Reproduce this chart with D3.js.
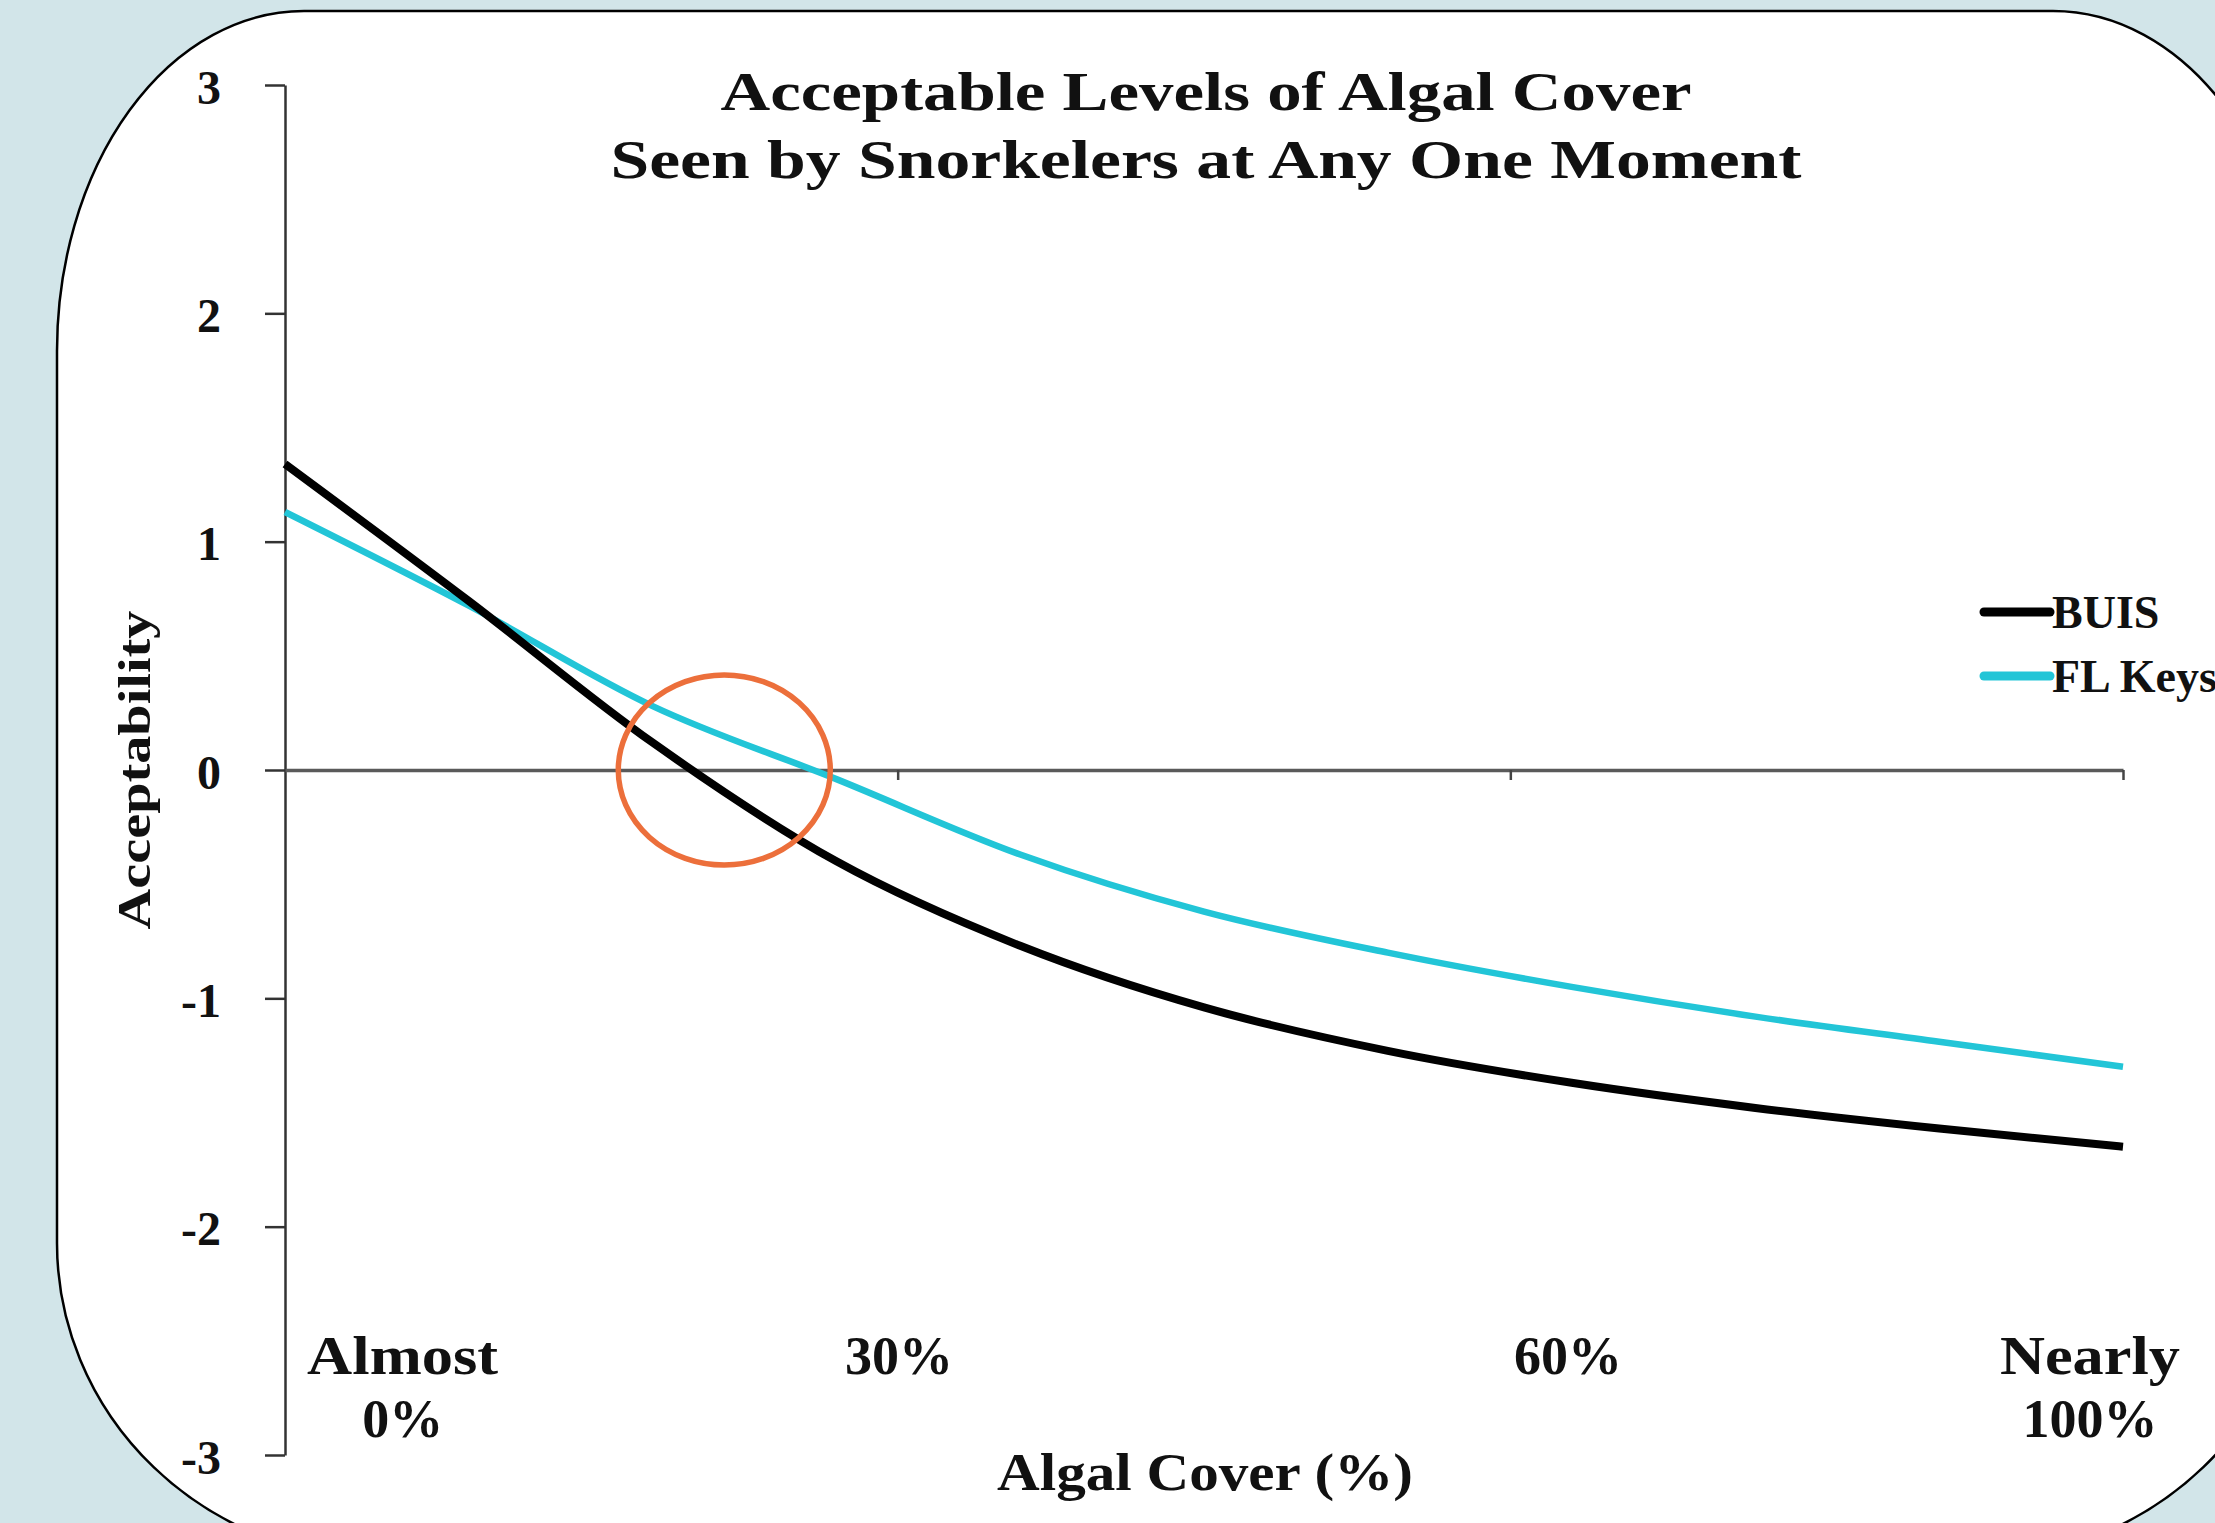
<!DOCTYPE html>
<html>
<head>
<meta charset="utf-8">
<script src="https://cdn.jsdelivr.net/npm/d3@7"></script>
<style>
    body { margin: 0; background: #d2e5e9; }
    svg { display: block; }
    text { font-family: "Liberation Serif", "Times New Roman", serif; font-weight: bold; fill: #111; }
</style>
</head>
<body>
<svg id="chart"></svg>
<script>
// algal cover (% of reef) vs acceptability score
const coverPct = [0, 10, 20, 30, 40, 50, 60, 70, 80, 90, 100];
const buis = [1.34, 0.74, 0.12, -0.40, -0.77, -1.04, -1.23, -1.37, -1.48, -1.57, -1.65];
const flKeys = [1.13, 0.72, 0.28, -0.04, -0.37, -0.62, -0.80, -0.95, -1.08, -1.19, -1.30];

const seriesNames = ["BUIS", "FL Keys"];
const yTicks = [3, 2, 1, 0, -1, -2, -3];
const xTicks = [0, 100 / 3, 200 / 3, 100];
const xLabelText = [["Almost", "0%"], ["30%"], ["60%"], ["Nearly", "100%"]];
const xLabelAt = [6.4, 33.4, 69.8, 98.2];
const titleLines = ["Acceptable Levels of Algal Cover", "Seen by Snorkelers at Any One Moment"];

// circled area where both curves cross zero
const highlight = { x: 23.9, y: 0 };

let width = 2215, height = 1523;
let chart = d3.select("#chart").attr("width", width).attr("height", height);

// white slide panel, corners not all the same size
let px0 = 57, py0 = 11, px1 = 2300, py1 = 1560;
let topR = [247, 340], botR = [330, 317];
let panel = d3.path();
panel.moveTo(px0 + topR[0], py0);
panel.lineTo(px1 - topR[0], py0);
let panelD = panel.toString()
    + "A" + topR[0] + "," + topR[1] + " 0 0 1 " + px1 + "," + (py0 + topR[1])
    + "L" + px1 + "," + (py1 - botR[1])
    + "A" + botR[0] + "," + botR[1] + " 0 0 1 " + (px1 - botR[0]) + "," + py1
    + "L" + (px0 + botR[0]) + "," + py1
    + "A" + botR[0] + "," + botR[1] + " 0 0 1 " + px0 + "," + (py1 - botR[1])
    + "L" + px0 + "," + (py0 + topR[1])
    + "A" + topR[0] + "," + topR[1] + " 0 0 1 " + (px0 + topR[0]) + "," + py0 + "Z";
chart.append("path")
    .attr("d", panelD)
    .attr("fill", "#fff")
    .attr("stroke", "#000")
    .attr("stroke-width", 2.5);

let xscale = d3.scaleLinear().domain([0, 100]).range([285, 2123]);
let yscale = d3.scaleLinear().domain([3, -3]).range([85, 1455]);

// y axis
let yAxis = chart.append("g")
    .attr("transform", "translate(" + xscale(0) + ",0)")
    .call(d3.axisLeft(yscale).tickValues(yTicks).tickSize(20).tickSizeOuter(0).tickFormat(d => String(d)));
yAxis.select(".domain").attr("stroke", "#333").attr("stroke-width", 2.5);
yAxis.selectAll(".tick line").attr("stroke", "#333").attr("stroke-width", 2.5);
yAxis.selectAll(".tick text")
    .attr("x", -64)
    .attr("dy", "0.38em")
    .style("font-family", "Liberation Serif, serif")
    .style("font-weight", "bold")
    .style("font-size", "48px")
    .attr("fill", "#111");

// x axis along zero
let xAxis = chart.append("g")
    .attr("transform", "translate(0," + yscale(0) + ")")
    .call(d3.axisBottom(xscale).tickValues(xTicks).tickSize(10).tickSizeOuter(0).tickFormat(""));
xAxis.select(".domain").attr("stroke", "#5a5a5a").attr("stroke-width", 3.5);
xAxis.selectAll(".tick line").attr("stroke", "#444").attr("stroke-width", 2.5);
xAxis.selectAll(".tick").filter(d => d === 0).remove();

// category labels placed low, Excel style
let wordWidths = { "Almost": 191, "Nearly": 180 };
xLabelText.forEach(function (lines, i) {
    lines.forEach(function (s, j) {
        let t = chart.append("text")
            .attr("x", xscale(xLabelAt[i]))
            .attr("y", j === 0 ? 1374 : 1437)
            .attr("text-anchor", "middle")
            .style("font-size", "54px")
            .text(s);
        if (wordWidths[s])
            t.attr("textLength", wordWidths[s]).attr("lengthAdjust", "spacingAndGlyphs");
    });
});

// titles
let titleWidths = [971, 1191];
titleLines.forEach(function (s, i) {
    chart.append("text")
        .attr("x", 1206)
        .attr("y", 110 + i * 68)
        .attr("text-anchor", "middle")
        .attr("textLength", titleWidths[i])
        .attr("lengthAdjust", "spacingAndGlyphs")
        .style("font-size", "54px")
        .text(s);
});

chart.append("text")
    .attr("x", 1205)
    .attr("y", 1490)
    .attr("text-anchor", "middle")
    .attr("textLength", 416)
    .attr("lengthAdjust", "spacingAndGlyphs")
    .style("font-size", "52px")
    .text("Algal Cover (%)");

chart.append("text")
    .attr("transform", "translate(150," + yscale(0) + ") rotate(-90)")
    .attr("text-anchor", "middle")
    .attr("textLength", 319)
    .attr("lengthAdjust", "spacingAndGlyphs")
    .style("font-size", "46px")
    .text("Acceptability");

// curves
let line = d3.line()
    .x(d => xscale(d[0]))
    .y(d => yscale(d[1]))
    .curve(d3.curveMonotoneX);

let series = [
    { name: seriesNames[0], values: d3.zip(coverPct, buis), color: "#000", w: 8 },
    { name: seriesNames[1], values: d3.zip(coverPct, flKeys), color: "#22c5d7", w: 6.5 }
];

chart.selectAll("path.series")
    .data(series.slice().reverse())
    .enter().append("path")
    .attr("class", "series")
    .attr("d", d => line(d.values))
    .attr("fill", "none")
    .attr("stroke", d => d.color)
    .attr("stroke-width", d => d.w)
    .attr("stroke-linecap", "butt");

// orange annotation ring
chart.append("ellipse")
    .attr("cx", xscale(highlight.x))
    .attr("cy", yscale(highlight.y))
    .attr("rx", 106).attr("ry", 95)
    .attr("fill", "none")
    .attr("stroke", "#ec6f3b")
    .attr("stroke-width", 5.5);

// legend (second entry runs off the slide edge, as in the original)
let legend = chart.selectAll("g.legend").data(series)
    .enter().append("g")
    .attr("class", "legend")
    .attr("transform", (d, i) => "translate(1984," + (612 + i * 64) + ")");
legend.append("line")
    .attr("x1", 0).attr("x2", 66)
    .attr("stroke", d => d.color)
    .attr("stroke-width", 9)
    .attr("stroke-linecap", "round");
legend.append("text")
    .attr("x", 68)
    .attr("dy", "0.35em")
    .style("font-size", "46px")
    .text(d => d.name);
</script>
</body>
</html>
